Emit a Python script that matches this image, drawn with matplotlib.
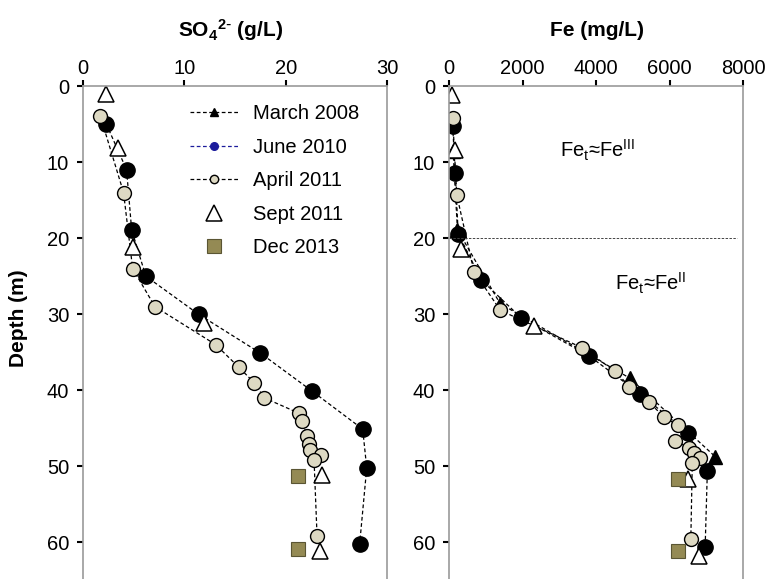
import matplotlib
matplotlib.use("Agg")
import matplotlib.pyplot as plt
from matplotlib.lines import Line2D

plt.rcParams['font.family'] = ['Liberation Sans', 'DejaVu Sans']
plt.rcParams['mathtext.default'] = 'regular'

# --- SO4 (g/L) ---
so4_jun10_depth = [5.0, 11.0, 18.9, 25.0, 30.0, 35.1, 40.1, 45.1, 50.2, 60.2]
so4_jun10 = [2.3, 4.3, 4.8, 6.2, 11.4, 17.5, 22.6, 27.6, 28.0, 27.3]
so4_apr11_depth = [3.9, 14.0, 24.0, 29.0, 34.0, 37.0, 39.0, 41.0, 43.0, 44.0,
                   46.0, 47.1, 47.9, 48.5, 49.1, 59.2]
so4_apr11 = [1.7, 4.0, 4.9, 7.1, 13.1, 15.4, 16.9, 17.9, 21.3, 21.6,
             22.1, 22.3, 22.4, 23.5, 22.8, 23.1]
so4_sep11_depth = [1.0, 8.1, 21.1, 31.1, 51.1, 61.1]
so4_sep11 = [2.3, 3.5, 4.9, 11.9, 23.6, 23.4]
so4_dec13_depth = [51.2, 60.9]
so4_dec13 = [21.2, 21.2]

# --- Fe (mg/L) ---
fe_mar08_depth = [8.5, 18.9, 28.6, 38.4, 48.7]
fe_mar08 = [110, 230, 1390, 4920, 7240]
fe_jun10_depth = [5.3, 11.4, 19.4, 25.5, 30.5, 35.5, 40.5, 45.6, 50.6, 60.6]
fe_jun10 = [100, 170, 250, 880, 1970, 3820, 5210, 6500, 7030, 6970]
fe_apr11_depth = [4.2, 14.3, 24.4, 29.5, 34.4, 37.5, 39.5, 41.6, 43.5, 44.6,
                  46.6, 47.6, 48.3, 48.9, 49.6, 59.6]
fe_apr11 = [100, 210, 680, 1400, 3620, 4520, 4910, 5450, 5850, 6220,
            6160, 6520, 6670, 6820, 6620, 6580]
fe_sep11_depth = [1.2, 8.4, 21.4, 31.6, 51.7, 61.8]
fe_sep11 = [70, 150, 330, 2320, 6510, 6810]
fe_dec13_depth = [51.7, 61.1]
fe_dec13 = [6240, 6240]

beige = '#DDD9C3'
olive = '#948A54'
navy = '#1C1C9C'

fig = plt.figure(figsize=(7.71, 5.79), dpi=100)
ax1 = fig.add_axes([83/771, 0, 304/771, 493/579])
ax2 = fig.add_axes([449/771, 0, 294/771, 493/579])

line_kw = dict(color='black', ls=(0, (3, 2)), lw=0.9)

# panneau gauche : sulfates
ax1.plot(so4_jun10, so4_jun10_depth, marker='o', ms=11, mfc='black', mec='black', **line_kw)
ax1.plot(so4_apr11, so4_apr11_depth, marker='o', ms=10, mfc=beige, mec='black', mew=1.0, **line_kw)
ax1.plot(so4_sep11, so4_sep11_depth, ls='none', marker='^', ms=11, mfc='white', mec='black', mew=1.1)
ax1.plot(so4_dec13, so4_dec13_depth, ls='none', marker='s', ms=9.5, mfc=olive, mec='#5a5533', mew=0.8)

# panneau droit : fer
ax2.plot(fe_mar08, fe_mar08_depth, marker='^', ms=10, mfc='black', mec='black', **line_kw)
ax2.plot(fe_jun10, fe_jun10_depth, marker='o', ms=11, mfc='black', mec='black', **line_kw)
ax2.plot(fe_apr11, fe_apr11_depth, marker='o', ms=10, mfc=beige, mec='black', mew=1.0, **line_kw)
ax2.plot(fe_sep11, fe_sep11_depth, ls='none', marker='^', ms=11, mfc='white', mec='black', mew=1.1)
ax2.plot(fe_dec13, fe_dec13_depth, ls='none', marker='s', ms=9.5, mfc=olive, mec='#5a5533', mew=0.8)

ax2.plot([0, 7840], [20, 20], color='#444444', ls=(0, (2.5, 1.5)), lw=0.7)
ax2.text(3020, 8.4, r'Fe$_{t}$≈Fe$^{III}$', fontsize=14.5, va='center', ha='left')
ax2.text(4520, 25.9, r'Fe$_{t}$≈Fe$^{II}$', fontsize=14.5, va='center', ha='left')

ax1.set_xlim(0, 30)
ax1.set_xticks([0, 10, 20, 30])
ax2.set_xlim(0, 8000)
ax2.set_xticks([0, 2000, 4000, 6000, 8000])

for ax in (ax1, ax2):
    ax.set_ylim(64.8, 0)
    ax.set_yticks([0, 10, 20, 30, 40, 50, 60])
    ax.xaxis.tick_top()
    ax.spines['bottom'].set_visible(False)
    for s in ('top', 'left', 'right'):
        ax.spines[s].set_color('#999999')
        ax.spines[s].set_linewidth(1.2)
    ax.tick_params(axis='x', direction='out', length=4, width=1.5, color='black',
                   labelsize=14.5, pad=1.5)
    ax.tick_params(axis='y', direction='out', length=4, width=1.5, color='black',
                   labelsize=14.5, pad=6)

handles = [
    Line2D([], [], color='black', ls=(0, (3, 2)), lw=0.9, marker='^', ms=5.5, mfc='black', mec='black'),
    Line2D([], [], color=navy, ls=(0, (3, 2)), lw=0.9, marker='o', ms=5.5, mfc=navy, mec=navy),
    Line2D([], [], color='black', ls=(0, (3, 2)), lw=0.9, marker='o', ms=6, mfc=beige, mec='black'),
    Line2D([], [], ls='none', marker='^', ms=11, mfc='white', mec='black', mew=1.1),
    Line2D([], [], ls='none', marker='s', ms=9.5, mfc=olive, mec='#5a5533', mew=0.8),
]
labels = ['March 2008', 'June 2010', 'April 2011', 'Sept 2011', 'Dec 2013']
ax1.legend(handles, labels, loc='upper left', bbox_to_anchor=(0.352, 0.963),
           frameon=False, fontsize=14.5, borderpad=0, borderaxespad=0,
           handlelength=2.4, handletextpad=0.75, labelspacing=0.72)

fig.text(231/771, 1 - 30/579, r'SO$_{4}$$^{2\text{-}}$ (g/L)', fontsize=15, fontweight='bold',
         ha='center', va='center')
fig.text(597/771, 1 - 30/579, 'Fe (mg/L)', fontsize=15, fontweight='bold',
         ha='center', va='center')
fig.text(19/771, 1 - 318/579, 'Depth (m)', fontsize=15, fontweight='bold',
         rotation=90, ha='center', va='center')

fig.savefig('out.png', dpi=100)
